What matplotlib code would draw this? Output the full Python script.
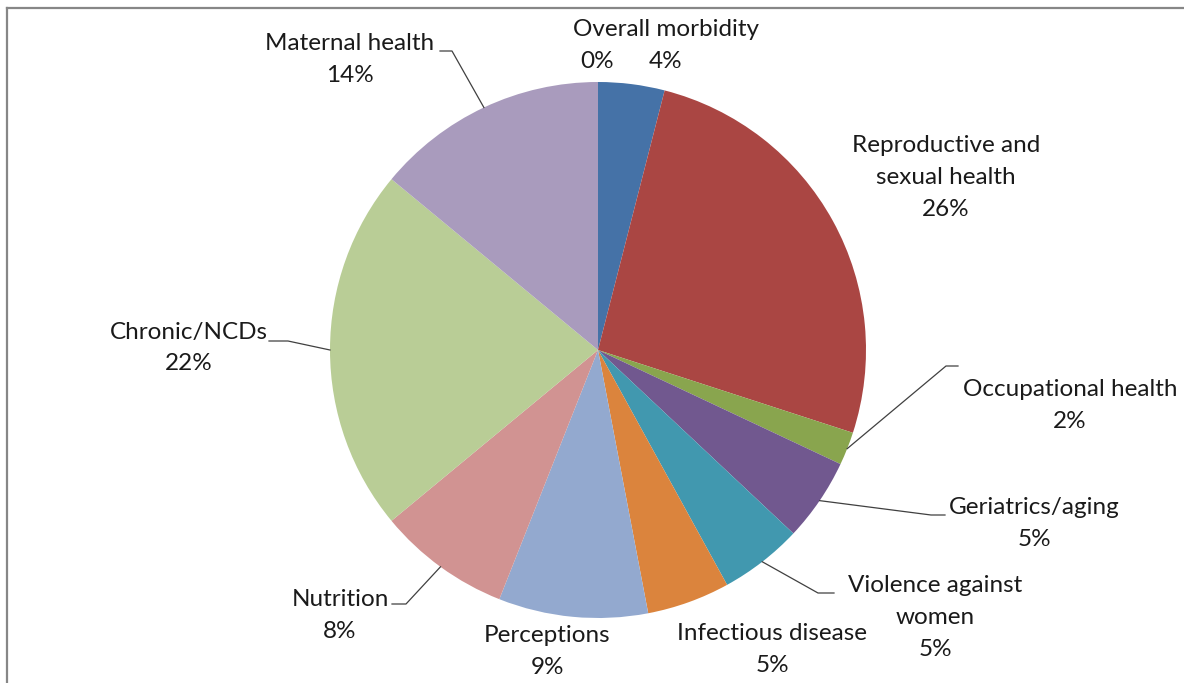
import numpy as np
import matplotlib.pyplot as plt
from matplotlib.lines import Line2D

plt.rcParams['font.family'] = ['Lato', 'DejaVu Sans']

# share of studies by topic (%), first entry is an empty category
categories = ['', 'Overall morbidity', 'Reproductive and sexual health',
              'Occupational health', 'Geriatrics/aging', 'Violence against women',
              'Infectious disease', 'Perceptions', 'Nutrition', 'Chronic/NCDs',
              'Maternal health']
shares = [0, 4, 26, 2, 5, 5, 5, 9, 8, 22, 14]
label_text = ['', 'Overall morbidity', 'Reproductive and\nsexual health',
              'Occupational health', 'Geriatrics/aging', 'Violence against\nwomen',
              'Infectious disease', 'Perceptions', 'Nutrition', 'Chronic/NCDs',
              'Maternal health']

colors = ['#4F81BD', '#4572A7', '#AA4643', '#89A54E', '#71588F', '#4198AF',
          '#DB843D', '#93A9CF', '#D19392', '#B9CD96', '#A99BBD']

W, H = 1184, 683
LINE = 32  # pixel distance between label lines

def px(x, y):
    # pixel position from the top-left corner -> data coords
    return x, H - y

# label centres and leader lines (elbow, end) in pixels
label_pos = [(597, 62), (666, 46), (946, 178), (1070, 406), (1034, 523),
             (935, 617), (772, 650), (547, 652), (340, 616), (189, 348),
             (350, 60)]
leaders = [None, None, None,
           ((946, 366), (958, 366)),
           ((931, 515), (945, 515)),
           ((818, 593), (834, 593)),
           None, None,
           ((406, 604), (392, 604)),
           ((288, 341), (269, 341)),
           ((452, 51), (440, 51))]

fig = plt.figure(figsize=(W / 100, H / 100), dpi=100)
ax = fig.add_axes([0, 0, 1, 1])

cx, cy = px(598, 350)
r = 268
wedges, _ = ax.pie(shares, colors=colors, startangle=90, counterclock=False,
                   center=(cx, cy), radius=r,
                   wedgeprops=dict(linewidth=0))

ax.set_xlim(0, W)
ax.set_ylim(0, H)
ax.set_aspect('equal')
ax.axis('off')

for i, w in enumerate(wedges):
    lines = (label_text[i].split('\n') if label_text[i] else []) + [f'{shares[i]}%']
    x0, y0 = label_pos[i]
    for k, line in enumerate(lines):
        y = y0 + (k - (len(lines) - 1) / 2) * LINE
        ax.text(*px(x0, y), line, ha='center', va='center',
                fontsize=17.5, color='#1a1a1a', zorder=5)
    if leaders[i] is not None:
        mid = np.deg2rad((w.theta1 + w.theta2) / 2)
        sx, sy = cx + r * np.cos(mid), cy + r * np.sin(mid)
        (ex, ey), (fx, fy) = leaders[i]
        ex, ey = px(ex, ey)
        fx, fy = px(fx, fy)
        ax.plot([sx, ex, fx], [sy, ey, fy], color='#404040', lw=0.9, zorder=4)

# chart area border (top and left edges are in view)
fig.add_artist(Line2D([7 / W, 7 / W], [0, 1 - 8 / H], color='#878787', lw=1.6))
fig.add_artist(Line2D([7 / W, 1], [1 - 8 / H, 1 - 8 / H], color='#878787', lw=1.6))

fig.savefig('out.png', dpi=100)
